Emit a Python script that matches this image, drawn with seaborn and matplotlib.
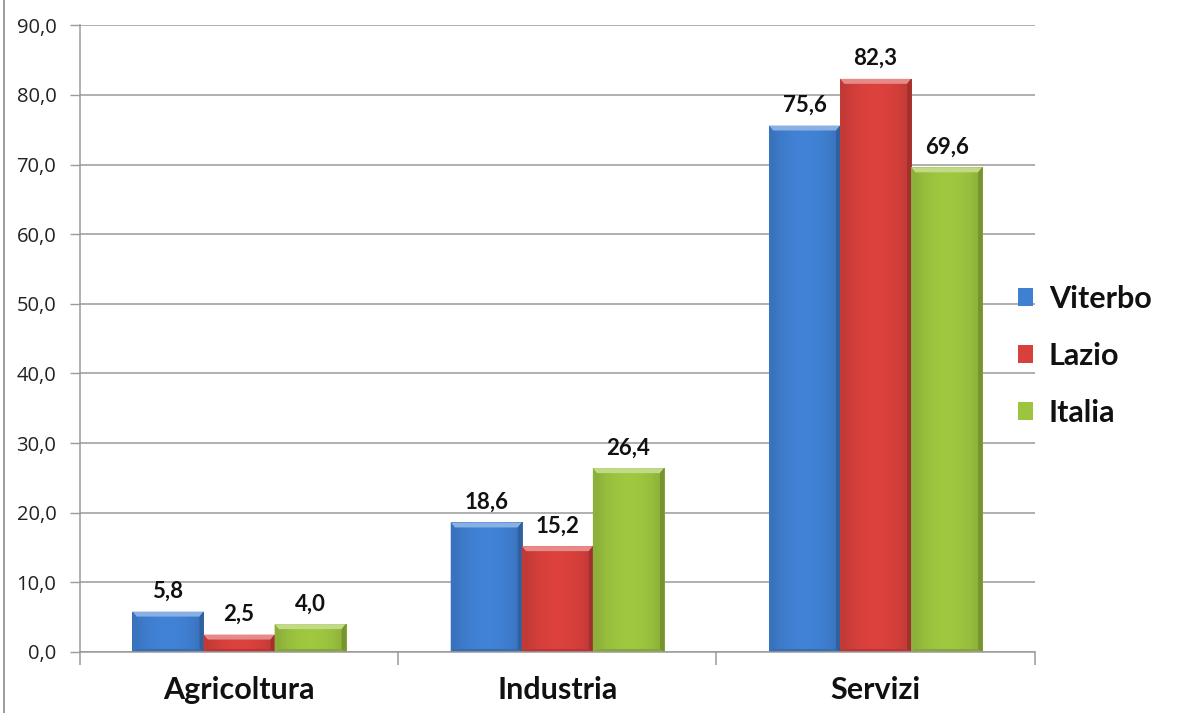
import numpy as np
import pandas as pd
import matplotlib
matplotlib.use("Agg")
import matplotlib.pyplot as plt
import matplotlib.colors as mcolors
from matplotlib.patches import Polygon
from matplotlib.lines import Line2D
import seaborn as sns

# Data
settori = ["Agricoltura", "Industria", "Servizi"]
viterbo = [5.8, 18.6, 75.6]
lazio = [2.5, 15.2, 82.3]
italia = [4.0, 26.4, 69.6]
aree = ["Viterbo", "Lazio", "Italia"]
colori = ["#4080D2", "#D8403C", "#9CC43F"]

df = pd.DataFrame({
    "settore": settori * 3,
    "area": [a for a in aree for _ in settori],
    "valore": viterbo + lazio + italia,
})

sns.set_theme(style="white")
plt.rcParams["font.family"] = ["Lato", "DejaVu Sans"]

fig = plt.figure(figsize=(12.04, 7.13), dpi=100)
ax = fig.add_axes([0.0664, 0.0856, 0.793, 0.879])

sns.barplot(data=df, x="settore", y="valore", hue="area", order=settori,
            hue_order=aree, palette=colori, width=0.67, saturation=1,
            edgecolor="none", linewidth=0, errorbar=None, ax=ax, legend=True)

ax.set_xlim(-0.5, 2.5)
ax.set_ylim(0, 90)


def mix(c, other, t):
    c = np.array(mcolors.to_rgb(c))
    o = np.array(mcolors.to_rgb(other))
    return tuple(np.clip(c * (1 - t) + o * t, 0, 1))


# bevelled shading on each bar
px_x = 1.0 / (ax.get_position().width * fig.get_figwidth() * fig.dpi / 3.0)
px_y = 90.0 / (ax.get_position().height * fig.get_figheight() * fig.dpi)
dx, dy = 4 * px_x, 5 * px_y
for cont, col in zip(ax.containers, colori):
    for patch in cont:
        x0, y0 = patch.get_x(), patch.get_y()
        w, h = patch.get_width(), patch.get_height()
        x1, y1 = x0 + w, y0 + h
        base = np.array(mcolors.to_rgb(col))
        t = np.linspace(0, 1, 64)
        prof = 0.84 + 0.18 * np.sin(np.pi * t) ** 0.6
        img = np.clip(base[None, :] * prof[:, None], 0, 1)[None, :, :]
        im = ax.imshow(img, extent=[x0, x1, y0, y1], aspect="auto",
                       interpolation="bilinear", zorder=2.1)
        im.set_clip_path(patch)
        ddy = min(dy, h / 3)
        ax.add_patch(Polygon([(x0, y1), (x1, y1), (x1 - dx, y1 - ddy), (x0 + dx, y1 - ddy)],
                             closed=True, fc=mix(col, "white", 0.38), ec="none", zorder=2.2))
        ax.add_patch(Polygon([(x0, y0), (x1, y0), (x1 - dx, y0 + ddy * 0.6), (x0 + dx, y0 + ddy * 0.6)],
                             closed=True, fc=mix(col, "black", 0.15), ec="none", zorder=2.2))
        ax.add_patch(Polygon([(x0, y0), (x0, y1), (x0 + dx, y1 - ddy), (x0 + dx, y0 + ddy * 0.6)],
                             closed=True, fc=mix(col, "black", 0.10), ec="none", zorder=2.2))
        ax.add_patch(Polygon([(x1, y0), (x1, y1), (x1 - dx, y1 - ddy), (x1 - dx, y0 + ddy * 0.6)],
                             closed=True, fc=mix(col, "black", 0.25), ec="none", zorder=2.2))
        ax.annotate(f"{h:.1f}".replace(".", ","), (x0 + w / 2, y1),
                    xytext=(0, 7), textcoords="offset points", ha="center", va="bottom",
                    fontsize=16, fontweight="bold", color="#111111")

ax.set_xlim(-0.5, 2.5)
ax.set_ylim(0, 90)

# axes and gridlines
ax.set_yticks(np.arange(0, 91, 10))
ax.set_yticklabels([f"{v:.1f}".replace(".", ",") for v in np.arange(0, 91, 10)],
                   fontsize=14.5, color="#222222", family=["Open Sans", "DejaVu Sans"])
ax.yaxis.grid(True, color="#9a9a9a", linewidth=1.1)
ax.set_axisbelow(True)
ax.tick_params(axis="y", which="major", length=7, width=1, color="#9a9a9a", pad=10, left=True)
ax.set_xticks([0, 1, 2])
ax.set_xticklabels(settori, fontsize=22, fontweight="bold", color="#111111")
ax.tick_params(axis="x", which="major", length=0, pad=17)
ax.set_xticks([-0.5, 0.5, 1.5, 2.5], minor=True)
ax.tick_params(axis="x", which="minor", length=9, width=1.1, color="#9a9a9a", bottom=True)
for side in ["top", "right"]:
    ax.spines[side].set_visible(False)
for side in ["left", "bottom"]:
    ax.spines[side].set_color("#9a9a9a")
    ax.spines[side].set_linewidth(1.1)
ax.set_xlabel("")
ax.set_ylabel("")

leg = ax.legend(loc="center left", bbox_to_anchor=(0.833, 0.501),
                bbox_transform=fig.transFigure, frameon=False, borderpad=0,
                prop={"size": 22, "weight": "bold"}, labelspacing=0.95,
                handlelength=0.5, handleheight=0.5, handletextpad=0.5)
for txt in leg.get_texts():
    txt.set_color("#111111")

# outer frame line on the left
fig.add_artist(Line2D([0.0035, 0.0035], [0, 1], transform=fig.transFigure,
                      color="#8a8a8a", linewidth=1.2))

fig.savefig("out.png", dpi=100)
